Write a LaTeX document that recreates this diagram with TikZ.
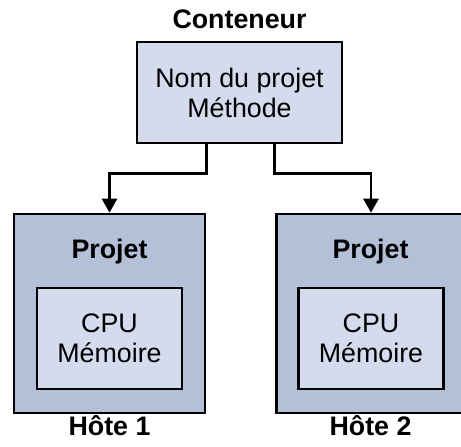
\documentclass[tikz,border=0pt]{standalone}
\usepackage{fontspec}
\setmainfont{Liberation Sans}
\usetikzlibrary{positioning,arrows.meta}

\definecolor{hostblue}{RGB}{180,192,216}
\definecolor{boxblue}{RGB}{211,219,236}

\def \txt {\fontsize{26.8}{30}\selectfont}

\begin{document}
\begin{tikzpicture}[x=1pt, y=-1pt, line width=2.6pt,
  box/.style={draw, fill=boxblue, inner sep=0pt, align=center, font=\txt},
  host/.style={draw, fill=hostblue, minimum width=191pt, minimum height=199pt},
  title/.style={anchor=base, font=\txt\bfseries},
  link/.style={-{Triangle[length=14pt, width=15pt]}}]

\useasboundingbox (0,0) rectangle (461,447);
\clip (0,0) rectangle (461,447);

\node[box, minimum width=205pt, minimum height=101pt] (cont) at (239.5,92.5) {Nom du projet\\Méthode};
\node[title] (conttitle) at (239.5,28) {Conteneur};

% second host runs past the right edge
\node[host] (host1) at (109.5,313.5) {};
\node[host, minimum width=210pt, anchor=west] (host2) at (275,313.5) {};
\node[box, minimum width=145pt, minimum height=101pt] (res1) at (109.5,338.5) {CPU\\Mémoire};
\node[box, minimum width=145pt, minimum height=101pt] (res2) at (371,338.5) {CPU\\Mémoire};
\node[title] (proj1) at (109.5,258) {Projet};
\node[title] (proj2) at (370.5,258) {Projet};
\node[title] (hote1) at (109.5,435) {Hôte 1};
\node[title] (hote2) at (370.5,435) {Hôte 2};

\draw[link] ([xshift=-33pt]cont.south) -- ++(0,29) -| (host1.north);
\draw[link] ([xshift=35pt]cont.south) -- ++(0,29) -| (res2.north |- host2.north);

\end{tikzpicture}
\end{document}
